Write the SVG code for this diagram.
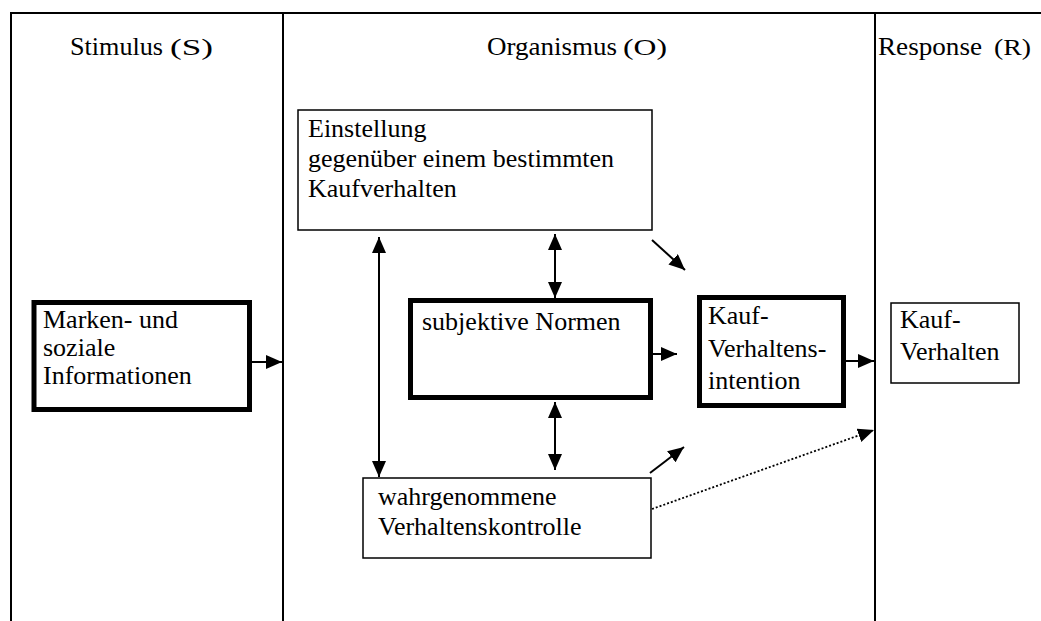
<svg xmlns="http://www.w3.org/2000/svg" width="1041" height="621" viewBox="0 0 1041 621">
<defs>
<style>
text{font-family:"Liberation Serif","Times New Roman",serif;fill:#000;}
.t{font-size:26px;}
.h{font-size:25px;}
.hs{font-size:23px;}
.thin{fill:#fff;stroke:#000;stroke-width:1.5;}
.thick{fill:#fff;stroke:#000;stroke-width:5;}
.frame{fill:none;stroke:#000;stroke-width:2;}
.c{fill:none;stroke:#000;stroke-width:2;}
.dot{fill:none;stroke:#000;stroke-width:1.8;stroke-dasharray:2 2;}
</style>
<marker id="ah" markerUnits="userSpaceOnUse" markerWidth="17" markerHeight="15" refX="16" refY="7" orient="auto-start-reverse">
<path d="M0,0 L16,7 L0,14 z" fill="#000"/>
</marker>
</defs>
<rect width="1041" height="621" fill="#fff"/>
<g id="frame">
<path class="frame" d="M11,621 V13 H1041 M283,13 V621 M875,13 V621"/>
<text class="h" x="70" y="55" textLength="93" lengthAdjust="spacingAndGlyphs">Stimulus</text>
<text class="hs" x="170" y="55" textLength="43" lengthAdjust="spacingAndGlyphs">(S)</text>
<text class="h" x="487" y="55" textLength="130" lengthAdjust="spacingAndGlyphs">Organismus</text>
<text class="hs" x="623" y="55" textLength="44" lengthAdjust="spacingAndGlyphs">(O)</text>
<text class="h" x="878" y="55" textLength="104" lengthAdjust="spacingAndGlyphs">Response</text>
<text class="hs" x="994" y="55" textLength="37" lengthAdjust="spacingAndGlyphs">(R)</text>
</g>
<g id="connectors">
<line class="c" x1="252" y1="362" x2="282" y2="362" marker-end="url(#ah)"/>
<line class="c" x1="379" y1="237" x2="379" y2="477" marker-start="url(#ah)" marker-end="url(#ah)"/>
<line class="c" x1="555" y1="234" x2="555" y2="298" marker-start="url(#ah)" marker-end="url(#ah)"/>
<line class="c" x1="555" y1="402" x2="555" y2="470" marker-start="url(#ah)" marker-end="url(#ah)"/>
<line class="c" x1="652" y1="240" x2="685" y2="270" marker-end="url(#ah)"/>
<line class="c" x1="645" y1="354" x2="677" y2="354" marker-end="url(#ah)"/>
<line class="c" x1="846" y1="361" x2="874" y2="361" marker-end="url(#ah)"/>
<line class="c" x1="650" y1="473" x2="684" y2="447" marker-end="url(#ah)"/>
<line class="dot" x1="652" y1="509" x2="874" y2="430" marker-end="url(#ah)"/>
</g>
<g id="marken">
<rect class="thick" x="34" y="302.5" width="215.5" height="107"/>
<text class="t" x="43" y="328">Marken- und</text>
<text class="t" x="43" y="356">soziale</text>
<text class="t" x="43" y="384">Informationen</text>
</g>
<g id="einstellung">
<rect class="thin" x="298" y="110" width="354" height="120"/>
<text class="t" x="308" y="137">Einstellung</text>
<text class="t" x="308" y="167">gegenüber einem bestimmten</text>
<text class="t" x="308" y="197">Kaufverhalten</text>
</g>
<g id="normen">
<rect class="thick" x="410.5" y="300.5" width="240" height="97"/>
<text class="t" x="422" y="330">subjektive Normen</text>
</g>
<g id="intention">
<rect class="thick" x="699.5" y="297.5" width="144" height="108"/>
<text class="t" x="708" y="324">Kauf-</text>
<text class="t" x="708" y="357">Verhaltens-</text>
<text class="t" x="708" y="389">intention</text>
</g>
<g id="kontrolle">
<rect class="thin" x="363" y="478" width="288" height="80"/>
<text class="t" x="378" y="505">wahrgenommene</text>
<text class="t" x="378" y="535">Verhaltenskontrolle</text>
</g>
<g id="verhalten">
<rect class="thin" x="891" y="303" width="128" height="80"/>
<text class="t" x="900" y="328">Kauf-</text>
<text class="t" x="900" y="360">Verhalten</text>
</g>
</svg>
